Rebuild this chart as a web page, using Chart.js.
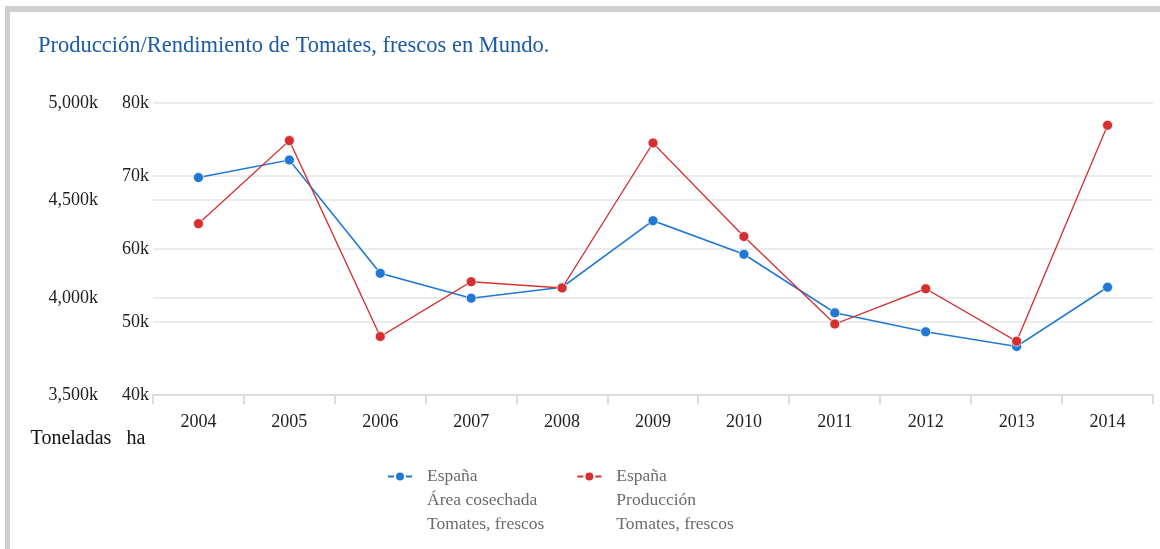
<!DOCTYPE html>
<html>
<head>
<meta charset="utf-8">
<title>Producción/Rendimiento de Tomates</title>
<script src="https://cdn.jsdelivr.net/npm/chart.js@4.4.1/dist/chart.umd.min.js"></script>
<style>
  html, body { margin: 0; padding: 0; background: #fff; }
  #frame {
    position: absolute; left: 5px; top: 6px; width: 1155px; height: 543px;
    border-top: 6px solid #cfcfcf; border-left: 5px solid #cfcfcf;
    box-sizing: border-box; background: #fff;
  }
  #wrap { position: absolute; left: 0; top: 0; width: 1150px; height: 537px; }
</style>
</head>
<body>
<div id="frame"><div id="wrap"><canvas id="myChart"></canvas></div></div>
<script>
const years = ['2004', '2005', '2006', '2007', '2008', '2009', '2010', '2011', '2012', '2013', '2014']
// ha
const areaCosechada = [69800, 72200, 56700, 53300, 54800, 63900, 59300, 51300, 48700, 46700, 54800]
// toneladas
const produccion = [4381000, 4807000, 3802000, 4083000, 4051000, 4795000, 4315000, 3866000, 4047000, 3778000, 4886000]
const haTicks = [40000, 50000, 60000, 70000, 80000]
const tonTicks = [3500000, 4000000, 4500000, 5000000]
const legendLines = [
  ['España', 'Área cosechada', 'Tomates, frescos'],
  ['España', 'Producción', 'Tomates, frescos']
]
const axisTitles = { yT: 'Toneladas', yH: 'ha' }

const serif = "'Liberation Serif', 'Times New Roman', serif"
const blue = '#1f78d6'
const red = '#d52f2f'

function kLabel(v) {
  return (v / 1000).toLocaleString('en-US') + 'k'
}

// axis names under the two y scales + legend below the chart
const extras = {
  id: 'extras',
  afterDraw(chart) {
    const c = chart.ctx
    const area = chart.chartArea
    c.save()
    c.fillStyle = '#111'
    c.font = '20px ' + serif
    c.textBaseline = 'middle'
    c.textAlign = 'center'
    const yT = chart.scales.yT, yH = chart.scales.yH
    c.fillText(axisTitles.yT, yT.left + 33, area.bottom + 43)
    c.fillText(axisTitles.yH, yH.left + 18, area.bottom + 43)

    // legend
    c.font = '17.5px ' + serif
    c.textAlign = 'left'
    let x = area.left + 235
    const y0 = area.bottom + 81
    chart.data.datasets.forEach((ds, i) => {
      const lines = legendLines[i]
      c.strokeStyle = ds.borderColor
      c.lineWidth = 2
      c.setLineDash([6, 3])
      c.beginPath()
      c.moveTo(x, y0)
      c.lineTo(x + 24, y0)
      c.stroke()
      c.setLineDash([])
      c.fillStyle = ds.pointBackgroundColor
      c.beginPath()
      c.arc(x + 12, y0, 4, 0, Math.PI * 2)
      c.fill()
      c.fillStyle = '#6b6b6b'
      let w = 0
      lines.forEach((t, j) => {
        c.fillText(t, x + 39, y0 + j * 24)
        w = Math.max(w, c.measureText(t).width)
      })
      x += 39 + w + 33
    })
    c.restore()
  }
}

const chartEle = document.getElementById('myChart')

const chart = new Chart(chartEle, {
  type: 'line',
  data: {
    labels: years,
    datasets: [{
      label: legendLines[0].join(' '),
      data: areaCosechada,
      yAxisID: 'yH',
      borderColor: blue,
      backgroundColor: blue,
      pointBackgroundColor: blue,
      pointBorderColor: 'rgba(255,255,255,0.7)',
      pointBorderWidth: 1,
      pointRadius: 5,
      borderWidth: 1.6,
      tension: 0,
      order: 1
    }, {
      label: legendLines[1].join(' '),
      data: produccion,
      yAxisID: 'yT',
      borderColor: red,
      backgroundColor: red,
      pointBackgroundColor: red,
      pointBorderColor: 'rgba(255,255,255,0.7)',
      pointBorderWidth: 1,
      pointRadius: 5,
      borderWidth: 1.3,
      tension: 0,
      order: 0
    }]
  },
  options: {
    responsive: true,
    maintainAspectRatio: false,
    animation: false,
    layout: { padding: { left: 28, right: 7, top: 0, bottom: 109 } },
    plugins: {
      legend: { display: false },
      tooltip: { enabled: false },
      title: {
        display: true,
        text: 'Producción/Rendimiento de Tomates, frescos en Mundo.',
        align: 'start',
        color: '#1a5ba8',
        font: { family: serif, size: 22.5, weight: 'normal' },
        padding: { top: 21, bottom: 43 }
      }
    },
    scales: {
      x: {
        offset: true,
        grid: { offset: true, drawOnChartArea: false, tickLength: 9, color: '#dddddd', lineWidth: 2 },
        border: { color: '#dddddd', width: 2 },
        ticks: { color: '#222', font: { family: serif, size: 18 }, padding: 7 }
      },
      yH: {
        position: 'left',
        weight: 0,
        min: 40000,
        max: 80000,
        afterBuildTicks: (s) => { s.ticks = haTicks.map(v => ({ value: v })) },
        afterFit: (s) => { s.width = 35 },
        grid: { color: '#ebebeb', lineWidth: 2, drawTicks: false },
        border: { display: false },
        ticks: { color: '#222', font: { family: serif, size: 18 }, padding: 4, callback: kLabel }
      },
      yT: {
        position: 'left',
        weight: 1,
        min: 3500000,
        max: 5000000,
        afterBuildTicks: (s) => { s.ticks = tonTicks.map(v => ({ value: v })) },
        afterFit: (s) => { s.width = 80 },
        grid: { color: '#ebebeb', lineWidth: 2, drawTicks: false },
        border: { display: false },
        ticks: { color: '#222', font: { family: serif, size: 18 }, padding: 20, callback: kLabel }
      }
    }
  },
  plugins: [extras]
})
</script>
</body>
</html>
